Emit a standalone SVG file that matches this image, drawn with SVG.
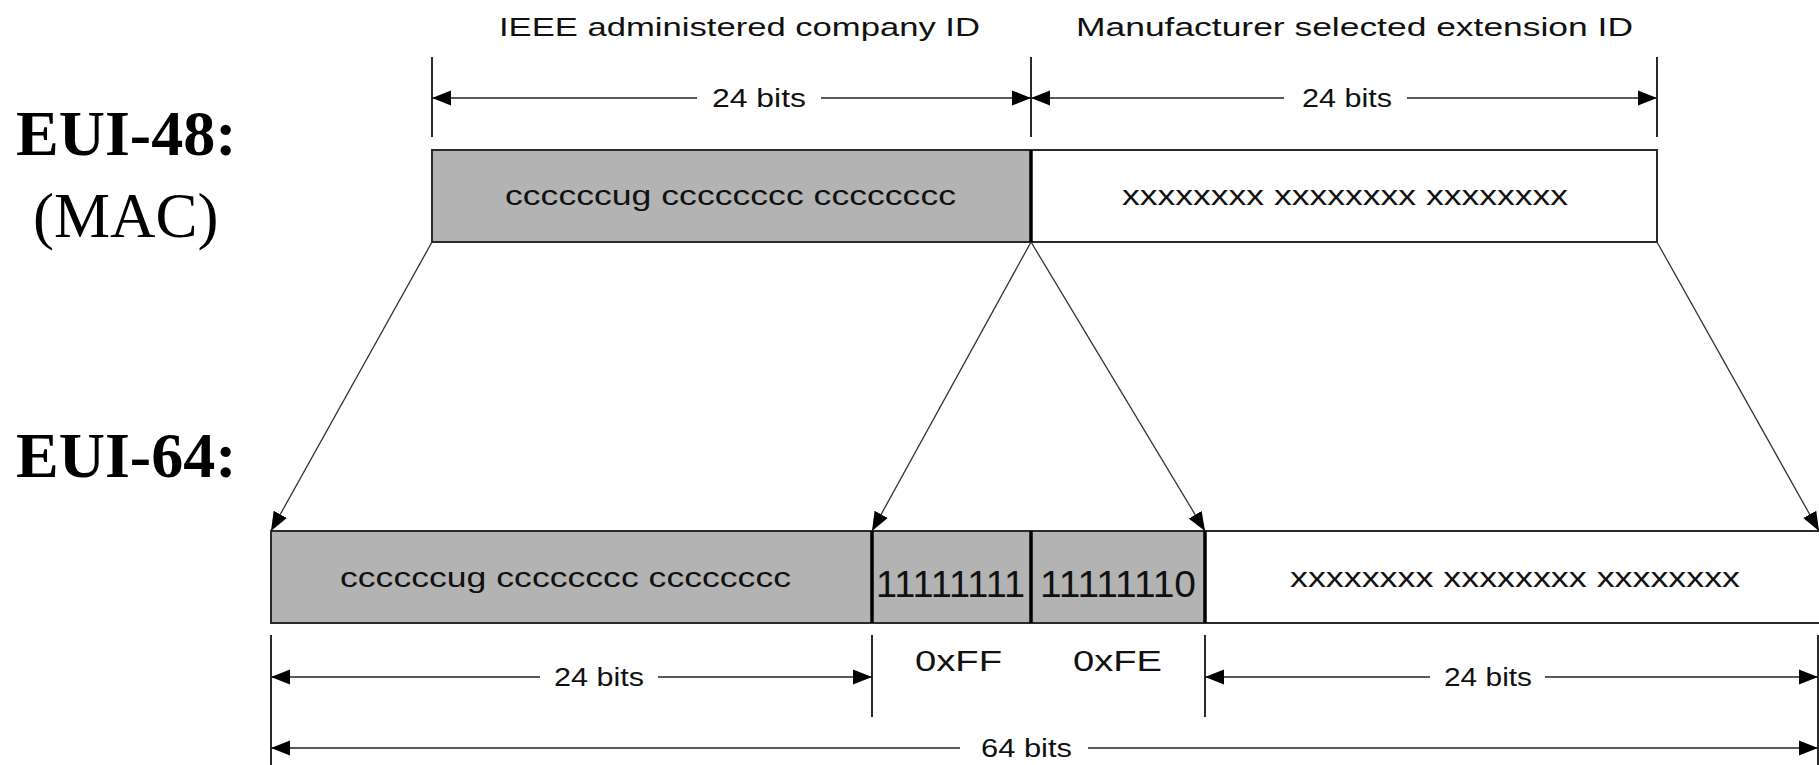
<svg xmlns="http://www.w3.org/2000/svg" width="1819" height="765" viewBox="0 0 1819 765">
<style>
.lbl{font-family:"Liberation Sans",Arial,sans-serif;font-size:26px;fill:#111}
.box{font-family:"Liberation Sans",Arial,sans-serif;font-size:28px;fill:#111}
.big{font-family:"Liberation Sans",Arial,sans-serif;font-size:36px;fill:#111}
.hex{font-family:"Liberation Sans",Arial,sans-serif;font-size:29px;fill:#111}
.eui{font-family:"Liberation Serif","Times New Roman",serif;font-size:64px;font-weight:bold;fill:#000}
.mac{font-family:"Liberation Serif","Times New Roman",serif;font-size:63px;fill:#000}
.frame{stroke:#2a2a2a;stroke-width:2}
.div{stroke:#000;stroke-width:3.5}
.dim{stroke:#222;stroke-width:1.6;fill:none}
.tick{stroke:#2a2a2a;stroke-width:2;fill:none}
.diag{stroke:#333;stroke-width:1.3;fill:none}
</style>
<defs>
<marker id="ah" markerUnits="userSpaceOnUse" markerWidth="20" markerHeight="16" refX="19" refY="8" orient="auto-start-reverse" viewBox="0 0 20 16">
<path d="M0,0.5 L19,8 L0,15.5 z" fill="#000"/>
</marker>
</defs>
<rect width="1819" height="765" fill="#fff"/>

<g id="labels">
<text class="eui" x="16" y="155">EUI-48:</text>
<text class="mac" x="33" y="237">(MAC)</text>
<text class="eui" x="16" y="477">EUI-64:</text>
<text class="lbl" x="499" y="36" textLength="481" lengthAdjust="spacingAndGlyphs">IEEE administered company ID</text>
<text class="lbl" x="1076" y="36" textLength="557" lengthAdjust="spacingAndGlyphs">Manufacturer selected extension ID</text>
</g>

<g id="eui48">
<g id="eui48-company">
<rect x="432" y="150" width="599" height="92" fill="#b3b3b3" class="frame"/>
<text class="box" x="505" y="205" textLength="451" lengthAdjust="spacingAndGlyphs">ccccccug cccccccc cccccccc</text>
</g>
<g id="eui48-ext">
<rect x="1031" y="150" width="626" height="92" fill="#fff" class="frame"/>
<text class="box" x="1122" y="205" textLength="446" lengthAdjust="spacingAndGlyphs">xxxxxxxx xxxxxxxx xxxxxxxx</text>
</g>
<line x1="1031" y1="150" x2="1031" y2="242" class="div"/>
</g>

<g id="eui64">
<g id="eui64-company">
<rect x="271" y="531" width="601" height="92" fill="#b3b3b3" class="frame"/>
<text class="box" x="340" y="587" textLength="451" lengthAdjust="spacingAndGlyphs">ccccccug cccccccc cccccccc</text>
</g>
<g id="eui64-ff">
<rect x="872" y="531" width="159" height="92" fill="#b3b3b3" class="frame"/>
<text class="big" x="876" y="597" textLength="149" lengthAdjust="spacingAndGlyphs">11111111</text>
</g>
<g id="eui64-fe">
<rect x="1031" y="531" width="174" height="92" fill="#b3b3b3" class="frame"/>
<text class="big" x="1040" y="597" textLength="156" lengthAdjust="spacingAndGlyphs">11111110</text>
</g>
<g id="eui64-ext">
<rect x="1205" y="531" width="640" height="92" fill="#fff" class="frame"/>
<text class="box" x="1290" y="587" textLength="450" lengthAdjust="spacingAndGlyphs">xxxxxxxx xxxxxxxx xxxxxxxx</text>
</g>
<line x1="872" y1="531" x2="872" y2="623" class="div"/>
<line x1="1031" y1="531" x2="1031" y2="623" class="div"/>
<line x1="1205" y1="531" x2="1205" y2="623" class="div"/>
<text class="hex" x="915" y="671" textLength="87" lengthAdjust="spacingAndGlyphs">0xFF</text>
<text class="hex" x="1073" y="671" textLength="89" lengthAdjust="spacingAndGlyphs">0xFE</text>
</g>

<g id="dimensions">
<path class="tick" d="M432,57 V137 M1031,57 V137 M1657,57 V137 M271,635 V765 M872,635 V717 M1205,635 V717 M1818,635 V765"/>
<line class="dim" x1="432" y1="98" x2="697" y2="98" marker-start="url(#ah)"/>
<line class="dim" x1="821" y1="98" x2="1031" y2="98" marker-end="url(#ah)"/>
<text class="lbl" x="712" y="107" textLength="94" lengthAdjust="spacingAndGlyphs">24 bits</text>
<line class="dim" x1="1031" y1="98" x2="1284" y2="98" marker-start="url(#ah)"/>
<line class="dim" x1="1407" y1="98" x2="1657" y2="98" marker-end="url(#ah)"/>
<text class="lbl" x="1302" y="107" textLength="90" lengthAdjust="spacingAndGlyphs">24 bits</text>
<line class="dim" x1="271" y1="677" x2="540" y2="677" marker-start="url(#ah)"/>
<line class="dim" x1="658" y1="677" x2="872" y2="677" marker-end="url(#ah)"/>
<text class="lbl" x="554" y="686" textLength="90" lengthAdjust="spacingAndGlyphs">24 bits</text>
<line class="dim" x1="1205" y1="677" x2="1430" y2="677" marker-start="url(#ah)"/>
<line class="dim" x1="1545" y1="677" x2="1818" y2="677" marker-end="url(#ah)"/>
<text class="lbl" x="1444" y="686" textLength="88" lengthAdjust="spacingAndGlyphs">24 bits</text>
<line class="dim" x1="271" y1="748" x2="960" y2="748" marker-start="url(#ah)"/>
<line class="dim" x1="1088" y1="748" x2="1818" y2="748" marker-end="url(#ah)"/>
<text class="lbl" x="981" y="757" textLength="91" lengthAdjust="spacingAndGlyphs">64 bits</text>
</g>

<g id="connectors">
<line class="diag" x1="432" y1="242" x2="271" y2="531" marker-end="url(#ah)"/>
<line class="diag" x1="1031" y1="242" x2="872" y2="531" marker-end="url(#ah)"/>
<line class="diag" x1="1031" y1="242" x2="1205" y2="531" marker-end="url(#ah)"/>
<line class="diag" x1="1657" y1="242" x2="1819" y2="531" marker-end="url(#ah)"/>
</g>
</svg>
